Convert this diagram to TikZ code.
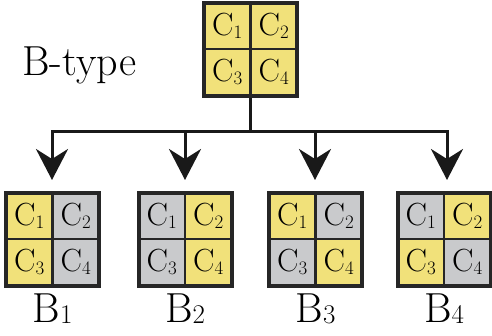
\documentclass[tikz,border=0pt]{standalone}
\usepackage{fontspec}
\usetikzlibrary{arrows.meta,positioning}
\definecolor{cyel}{HTML}{F1E17A}
\definecolor{cgry}{HTML}{C9CACC}
\newcommand{\cc}[1]{{\fontsize{32}{32}\selectfont C}{\fontsize{19}{19}\selectfont\raisebox{-3pt}{#1}}}
\newcommand{\bb}[1]{{\fontsize{42}{42}\selectfont B}{\fontsize{27}{27}\selectfont\raisebox{-1pt}{#1}}}
\tikzset{
  cell/.style={draw=black!85, line width=2.6pt, minimum size=46.5pt, inner sep=0pt, anchor=center},
  yel/.style={cell, fill=cyel},
  gry/.style={cell, fill=cgry},
  frame/.style={draw=black!85, line width=4pt, minimum size=93pt, inner sep=0pt},
  conn/.style={draw=black!90, line width=3pt},
  arr/.style={conn, -{Stealth[length=31pt,width=32pt,inset=10pt]}},
  blab/.style={inner sep=0pt, anchor=base}
}
\newcommand{\grid}[7]{%
  \node[#4] (#1c1) at (#2-23.25,#3-23.25) {\cc{1}};
  \node[#5] (#1c2) at (#2+23.25,#3-23.25) {\cc{2}};
  \node[#6] (#1c3) at (#2-23.25,#3+23.25) {\cc{3}};
  \node[#7] (#1c4) at (#2+23.25,#3+23.25) {\cc{4}};
  \node[frame] (#1) at (#2,#3) {};
}
\begin{document}
\begin{tikzpicture}[x=1pt,y=-1pt]
\useasboundingbox (0,0) rectangle (492,335);
\grid{T}{250.5}{49}{yel}{yel}{yel}{yel}
\node[inner sep=0pt, anchor=base west] (btype) at (22,75) {\fontsize{42}{42}\selectfont B-type};
\grid{G1}{52.5}{239}{yel}{gry}{yel}{gry}
\grid{G2}{185}{239}{gry}{yel}{gry}{yel}
\grid{G3}{315.5}{239}{yel}{gry}{gry}{yel}
\grid{G4}{444}{239}{gry}{yel}{yel}{gry}
\node[blab] (L1) at (52.5,322) {\bb{1}};
\node[blab] (L2) at (185,322) {\bb{2}};
\node[blab] (L3) at (315.5,322) {\bb{3}};
\node[blab] (L4) at (444,322) {\bb{4}};
\coordinate (j) at (250.5,131);
\coordinate (h1) at (52,131);
\coordinate (h2) at (185,131);
\coordinate (h3) at (315,131);
\coordinate (h4) at (447,131);
\coordinate (t1) at (52,180);
\coordinate (t2) at (185,180);
\coordinate (t3) at (315,180);
\coordinate (t4) at (447,180);
\draw[conn] (T.south) -- (j);
\draw[conn, line cap=rect] (h1) -- (h4);
\draw[arr] (h1) -- (t1);
\draw[arr] (h2) -- (t2);
\draw[arr] (h3) -- (t3);
\draw[arr] (h4) -- (t4);
\end{tikzpicture}
\end{document}
